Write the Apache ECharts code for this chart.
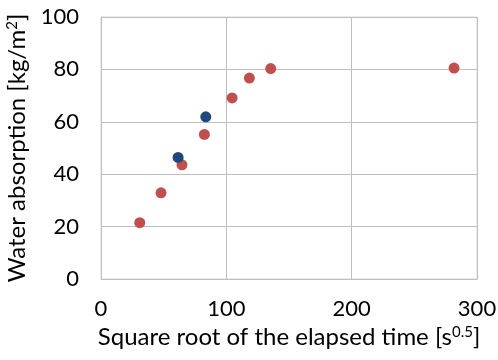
<!DOCTYPE html>
<html><head><meta charset="utf-8">
<script src="https://cdn.jsdelivr.net/npm/echarts@6/dist/echarts.min.js"></script>
<style>html,body{margin:0;padding:0;background:#fff}#c{width:498px;height:360px}</style>
</head><body><div id="c"></div>
<script>
const redX = [30.9, 47.9, 64.6, 82.5, 104.6, 118.4, 135.4, 281.7];
const redY = [21.5, 32.9, 43.6, 55.2, 69.1, 76.7, 80.3, 80.5];
const blueX = [61.5, 83.6];
const blueY = [46.4, 61.9];
const xTicks = [0, 100, 200, 300];
const yTicks = [0, 20, 40, 60, 80, 100];

const FONT = 'Lato';
const chart = echarts.init(document.getElementById('c'));
const zip = (a, b) => a.map((v, i) => [v, b[i]]);
chart.setOption({
  animation: false,
  grid: {left: 101, right: 21, top: 17, bottom: 81, show: true, borderColor: '#D9D9D9', borderWidth: 1,
         containLabel: false, outerBoundsMode: 'none'},
  xAxis: {
    type: 'value', min: xTicks[0], max: xTicks[xTicks.length - 1], interval: 100,
    axisLine: {show: true, lineStyle: {color: '#BFBFBF'}},
    axisTick: {show: false},
    splitLine: {show: true, lineStyle: {color: '#BFBFBF'}},
    axisLabel: {color: '#000', fontFamily: FONT, fontSize: 22, margin: 19},
    name: '{n|Square root of the elapsed time [s}{s|0.5}{n|]}',
    nameLocation: 'middle', nameGap: 44,
    nameTextStyle: {rich: {
      n: {fontFamily: FONT, fontSize: 24, color: '#000', verticalAlign: 'bottom'},
      s: {fontFamily: FONT, fontSize: 15, color: '#000', verticalAlign: 'top'}
    }}
  },
  yAxis: {
    type: 'value', min: yTicks[0], max: yTicks[yTicks.length - 1], interval: 20,
    axisLine: {show: true, lineStyle: {color: '#BFBFBF'}},
    axisTick: {show: false},
    splitLine: {show: true, lineStyle: {color: '#BFBFBF'}},
    axisLabel: {color: '#000', fontFamily: FONT, fontSize: 22, margin: 22},
    name: '{n|Water absorption [kg/m}{s|2}{n|]}',
    nameLocation: 'middle', nameGap: 72,
    nameTextStyle: {rich: {
      n: {fontFamily: FONT, fontSize: 24, color: '#000', verticalAlign: 'bottom'},
      s: {fontFamily: FONT, fontSize: 15, color: '#000', verticalAlign: 'top'}
    }}
  },
  series: [
    {type: 'scatter', data: zip(redX, redY), symbolSize: 11, itemStyle: {color: '#C0504D', opacity: 1}},
    {type: 'scatter', data: zip(blueX, blueY), symbolSize: 11, itemStyle: {color: '#1F497D', opacity: 1}}
  ]
});
</script></body></html>
